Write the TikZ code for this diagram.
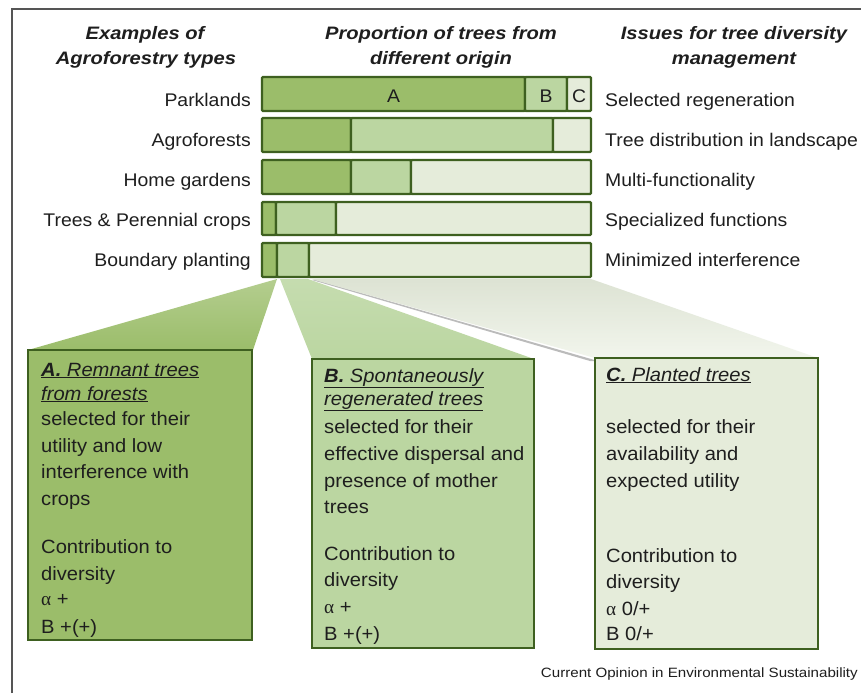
\documentclass[tikz,border=0pt]{standalone}
\usepackage{fontspec}
\setmainfont{Liberation Sans}[FakeStretch=1.12]
\newfontfamily\boxfont{Liberation Sans}[FakeStretch=1.05]
\newfontfamily\lblfont{Liberation Sans}[FakeStretch=1.06]
\newfontfamily\grkfont{Liberation Serif}
\definecolor{cA}{RGB}{155,189,106}
\definecolor{cB}{RGB}{187,214,161}
\definecolor{cC}{RGB}{229,236,218}
\definecolor{bord}{RGB}{62,96,32}
\definecolor{txt}{RGB}{30,30,30}
\definecolor{framec}{RGB}{85,85,85}
\newcommand{\myul}[1]{\underline{#1}}
\begin{document}
\begin{tikzpicture}[x=1pt,y=-1pt,
  seg/.style={draw=bord, line width=2.4pt, rounded corners=1pt},
  rowlbl/.style={inner sep=0, anchor=base east, text=txt, font=\lblfont\fontsize{18.3}{20}\selectfont},
  isslbl/.style={inner sep=0, anchor=base west, text=txt, font=\lblfont\fontsize{18.3}{20}\selectfont},
  seglbl/.style={inner sep=0, anchor=base, text=txt, font=\lblfont\fontsize{18.3}{20}\selectfont},
  hdr/.style={inner sep=0, anchor=base, text=txt, font=\bfseries\itshape\fontsize{18}{20}\selectfont},
  boxline/.style={inner sep=0, anchor=base west, text=txt, font=\boxfont\fontsize{19.2}{22}\selectfont},
  infobox/.style={draw=bord, line width=2.4pt, inner sep=0}
]
\useasboundingbox (0,0) rectangle (861,693);
\fill[white] (0,0) rectangle (861,693);
% frame
\draw[framec, line width=2pt] (12,693) -- (12,9) -- (861,9);

% headers
\node[hdr] (h1a) at (145,40) {Examples of};
\node[hdr] (h1b) at (146,64) {Agroforestry types};
\node[hdr] (h2a) at (441,40) {Proportion of trees from};
\node[hdr] (h2b) at (441,64) {different origin};
\node[hdr] (h3a) at (734,40) {Issues for tree diversity};
\node[hdr] (h3b) at (734,64) {management};

% funnels
\fill[gray!75, opacity=0.7] (312,280) -- (316,280) -- (598,361) -- (590,361) -- cycle;
\shade[top color=cA!75!white, bottom color=cA] (277,279) -- (253,350) -- (28,350) -- cycle;
\shade[top color=cB!85!white, bottom color=cB] (280,279) -- (308,279) -- (534,359) -- (312,359) -- cycle;
\shade[top color=cC!90!gray!95!white, bottom color=cC!50!white] (311,279) -- (591,279) -- (818,358) -- (595,358) -- cycle;

% bars
\foreach \yt/\yb/\xa/\xb [count=\i] in {77/111/525/567, 118/152/351/553, 160/194/351/411, 202/235/276/336, 243/277/277/309}{
  \path[seg, fill=cA] (262,\yt) rectangle (\xa,\yb);
  \path[seg, fill=cB] (\xa,\yt) rectangle (\xb,\yb);
  \path[seg, fill=cC] (\xb,\yt) rectangle (591,\yb);
}
\node[seglbl] (lA) at (393.5,102) {A};
\node[seglbl] (lB) at (546,102) {B};
\node[seglbl] (lC) at (579,102) {C};

% row labels
\node[rowlbl] (r1) at (251,106) {Parklands};
\node[rowlbl] (r2) at (251,146) {Agroforests};
\node[rowlbl] (r3) at (251,186) {Home gardens};
\node[rowlbl] (r4) at (251,226) {Trees \& Perennial crops};
\node[rowlbl] (r5) at (251,266) {Boundary planting};

% issues
\node[isslbl] (i1) at (605,106) {Selected regeneration};
\node[isslbl] (i2) at (605,146) {Tree distribution in landscape};
\node[isslbl] (i3) at (605,186) {Multi-functionality};
\node[isslbl] (i4) at (605,226) {Specialized functions};
\node[isslbl] (i5) at (605,266) {Minimized interference};

% boxes
\node[infobox, fill=cA, minimum width=224pt, minimum height=290pt] (boxA) at (140,495) {};
\node[infobox, fill=cB, minimum width=222pt, minimum height=289pt] (boxB) at (423,503.5) {};
\node[infobox, fill=cC, minimum width=223pt, minimum height=291pt] (boxC) at (706.5,503.5) {};

% box A text
\node[boxline] (a1) at (41,376) {\myul{\textbf{\textit{A.}} \textit{Remnant trees}}};
\node[boxline] (a2) at (41,400) {\myul{\textit{from forests}}};
\node[boxline] (a3) at (41,425) {selected for their};
\node[boxline] (a4) at (41,452) {utility and low};
\node[boxline] (a5) at (41,478) {interference with};
\node[boxline] (a6) at (41,505) {crops};
\node[boxline] (a7) at (41,553) {Contribution to};
\node[boxline] (a8) at (41,580) {diversity};
\node[boxline] (a9) at (41,605) {{\grkfont α} +};
\node[boxline] (a10) at (41,633) {B +(+)};

% box B text
\node[boxline] (b1) at (324,382) {\myul{\textbf{\textit{B.}} \textit{Spontaneously}}};
\node[boxline] (b2) at (324,405) {\myul{\textit{regenerated trees}}};
\node[boxline] (b3) at (324,433) {selected for their};
\node[boxline] (b4) at (324,460) {effective dispersal and};
\node[boxline] (b5) at (324,487) {presence of mother};
\node[boxline] (b6) at (324,513) {trees};
\node[boxline] (b7) at (324,560) {Contribution to};
\node[boxline] (b8) at (324,586) {diversity};
\node[boxline] (b9) at (324,613) {{\grkfont α} +};
\node[boxline] (b10) at (324,640) {B +(+)};

% box C text
\node[boxline] (c1) at (606,381) {\myul{\textbf{\textit{C.}} \textit{Planted trees}}};
\node[boxline] (c3) at (606,433) {selected for their};
\node[boxline] (c4) at (606,460) {availability and};
\node[boxline] (c5) at (606,487) {expected utility};
\node[boxline] (c7) at (606,562) {Contribution to};
\node[boxline] (c8) at (606,588) {diversity};
\node[boxline] (c9) at (606,615) {{\grkfont α} 0/+};
\node[boxline] (c10) at (606,640) {B 0/+};

% footer
\node[inner sep=0, anchor=base east, text=txt, font=\fontsize{13.5}{16}\selectfont] (foot) at (858,677) {Current Opinion in Environmental Sustainability};
\end{tikzpicture}
\end{document}
